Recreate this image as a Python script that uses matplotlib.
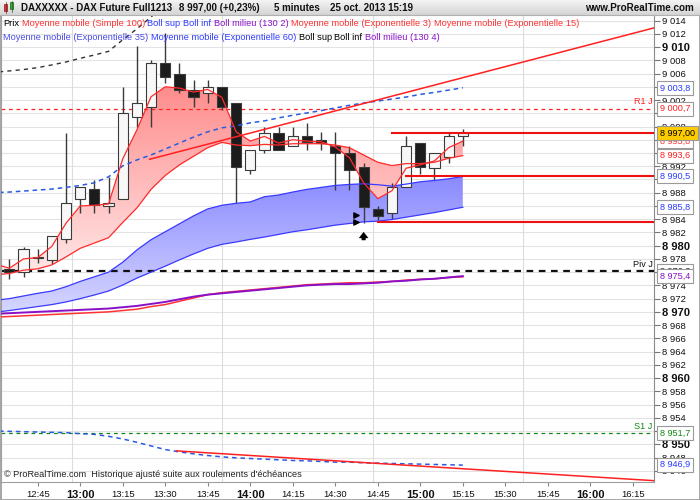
import numpy as np
import matplotlib
matplotlib.use("Agg")
import matplotlib.pyplot as plt
import matplotlib.transforms as mtransforms
from matplotlib.colors import LinearSegmentedColormap
from matplotlib.patches import Rectangle

plt.rcParams['font.family'] = ['Liberation Sans', 'DejaVu Sans']

# ---------------- data ----------------
times = ["12:35", "12:40", "12:45", "12:50", "12:55", "13:00", "13:05", "13:10", "13:15",
         "13:20", "13:25", "13:30", "13:35", "13:40", "13:45", "13:50", "13:55", "14:00",
         "14:05", "14:10", "14:15", "14:20", "14:25", "14:30", "14:35", "14:40", "14:45",
         "14:50", "14:55", "15:00", "15:05", "15:10", "15:15"]
opens = [8976.4, 8976.0, 8978.2, 8977.9, 8981.0, 8987.0, 8988.5, 8986.0, 8987.0, 8999.5,
         9001.0, 9007.6, 9006.0, 9003.5, 9003.0, 9004.0, 9001.5, 8991.5, 8994.5, 8997.0,
         8995.0, 8996.5, 8996.0, 8995.0, 8994.0, 8991.9, 8985.5, 8985.0, 8988.9, 8995.5,
         8991.8, 8993.45, 8996.6]
highs = [8978.0, 8979.85, 8979.5, 8981.5, 8997.0, 8988.9, 8989.9, 8990.4, 9004.0, 9010.1,
         9008.05, 9012.2, 9007.6, 9005.0, 9005.0, 9004.0, 9001.5, 8994.5, 8998.0, 8998.0,
         8998.0, 8998.5, 8997.2, 8997.2, 8995.0, 8992.45, 8986.0, 8989.4, 8996.5, 8995.5,
         8994.0, 8997.0, 8997.6]
lows = [8974.9, 8975.3, 8977.4, 8977.3, 8980.4, 8985.0, 8984.9, 8985.0, 8987.0, 8998.0,
        8997.9, 9004.5, 9003.0, 9001.0, 9001.5, 9000.5, 8986.4, 8990.9, 8994.0, 8994.5,
        8995.0, 8994.5, 8994.5, 8988.4, 8988.4, 8983.4, 8983.9, 8984.0, 8988.9, 8990.9,
        8989.9, 8992.45, 8995.0]
closes = [8976.0, 8979.5, 8978.3, 8981.5, 8986.5, 8988.9, 8986.1, 8986.5, 9000.0, 9001.5,
          9007.6, 9005.5, 9003.5, 9002.5, 9004.0, 9001.0, 8991.9, 8994.5, 8997.0, 8994.5,
          8996.5, 8995.7, 8995.5, 8994.0, 8991.45, 8985.9, 8984.5, 8988.9, 8995.0, 8991.9,
          8994.0, 8996.5, 8997.0]

# indicator series start one bar earlier (12:30), just off the left edge
ind_times = ["12:30"] + times
ema3 = [8977.2, 8976.6, 8978.0, 8978.2, 8979.9, 8983.4, 8986.0, 8986.1, 8986.3, 8993.1, 8997.5,
        9002.5, 9004.0, 9003.8, 9003.2, 9003.6, 9002.4, 8997.2, 8995.8, 8996.5, 8995.5,
        8996.0, 8995.8, 8995.7, 8994.9, 8993.3, 8989.5, 8987.1, 8988.3, 8991.7, 8992.2,
        8992.8, 8994.8, 8995.8]
ema15 = [8975.6, 8975.8, 8976.3, 8976.5, 8977.1, 8978.3, 8979.6, 8980.4, 8981.2, 8983.5, 8985.7,
         8988.5, 8990.6, 8992.2, 8993.5, 8994.8, 8995.6, 8995.2, 8995.1, 8995.3, 8995.2,
         8995.4, 8995.4, 8995.4, 8995.2, 8994.8, 8993.7, 8992.6, 8992.1, 8992.4, 8992.4,
         8992.6, 8993.2, 8993.6]
ema35 = [8971.75, 8972.0, 8972.4, 8972.8, 8973.15, 8973.8, 8974.6, 8975.3, 8976.0, 8977.5, 8979.35,
         8980.9, 8982.1, 8983.3, 8984.5, 8985.55, 8986.1, 8986.4, 8986.6, 8987.4, 8987.65,
         8988.1, 8988.5, 8988.8, 8989.1, 8989.25, 8989.35, 8989.2, 8989.0, 8989.3, 8989.65,
         8989.85, 8990.1, 8990.45]
ema60 = [8969.95, 8970.2, 8970.5, 8970.8, 8971.1, 8971.5, 8972.0, 8972.55, 8973.15, 8974.05, 8975.1,
         8976.0, 8976.9, 8977.85, 8978.75, 8979.6, 8980.2, 8980.55, 8980.95, 8981.3, 8981.7,
         8982.1, 8982.4, 8982.75, 8983.1, 8983.35, 8983.6, 8983.7, 8983.95, 8984.3, 8984.65,
         8985.0, 8985.4, 8985.8]
sma100 = [8969.2, 8969.3, 8969.4, 8969.5, 8969.6, 8969.7, 8969.8, 8969.9, 8970.0, 8970.2, 8970.4,
          8970.8, 8971.1, 8971.6, 8972.1, 8972.6, 8972.9, 8973.1, 8973.3, 8973.5, 8973.7,
          8973.9, 8974.1, 8974.2, 8974.3, 8974.4, 8974.4, 8974.5, 8974.6, 8974.8, 8974.9,
          8975.0, 8975.2, 8975.3]
boll_mid = [8969.7, 8969.8, 8969.9, 8970.0, 8970.1, 8970.2, 8970.3, 8970.4, 8970.5, 8970.7, 8970.9,
            8971.2, 8971.5, 8971.9, 8972.3, 8972.6, 8972.8, 8973.0, 8973.2, 8973.4, 8973.6,
            8973.8, 8974.0, 8974.1, 8974.2, 8974.2, 8974.3, 8974.4, 8974.6, 8974.7, 8974.9,
            8975.0, 8975.2, 8975.4]
boll2_up = [8988.0, 8988.1, 8988.25, 8988.4, 8988.55, 8988.8, 8989.1, 8989.5, 8990.4, 8992.05, 8992.95,
            8993.7, 8994.6, 8995.5, 8996.4, 8997.2, 8997.8, 8998.1, 8998.55, 8998.85, 8999.3,
            8999.7, 9000.05, 9000.4, 9000.8, 9001.2, 9001.55, 9001.85, 9002.15, 9002.45, 9002.85,
            9003.15, 9003.5, 9003.85]
boll2_dn = [8952.0, 8951.95, 8951.9, 8951.85, 8951.8, 8951.75, 8951.6, 8951.5, 8951.2, 8950.8, 8950.3,
            8949.75, 8949.2, 8948.85, 8948.55, 8948.3, 8948.1, 8947.95, 8947.85, 8947.75, 8947.65,
            8947.55, 8947.5, 8947.4, 8947.3, 8947.3, 8947.2, 8947.15, 8947.1, 8947.05, 8947.0,
            8946.95, 8946.9, 8946.85]
boll4_up = [9006.2, 9006.4, 9006.6, 9006.9, 9007.3, 9007.75, 9008.3, 9008.8, 9009.35, 9011.1, 9012.75,
            9014.55, 9016.4, 9018.3] + [np.nan] * 20

piv_j, r1_j, s1_j = 8976.2, 9000.7, 8951.7

trend_upper_slots = [9.9, 45.5]
trend_upper_vals = [8993.05, 9012.9]
trend_lower_slots = [11.8, 45.5]
trend_lower_vals = [8949.0, 8944.5]

level_vals = [8997.0, 8990.5, 8983.5]
level_from = ["14:50", "14:55", "14:45"]

arrow_time = "14:40"
arrow_vals = [8980.4, 8982.5]
signal_slots = [24.45, 24.45]
signal_vals = [8984.7, 8983.6]

xtick_labels = ["12:45", "13:00", "13:15", "13:30", "13:45", "14:00", "14:15", "14:30",
                "14:45", "15:00", "15:15", "15:30", "15:45", "16:00", "16:15"]

box_vals = [9003.8, 9000.7, 8995.8, 8993.6, 8990.5, 8985.8, 8976.2, 8975.4, 8951.7, 8946.9]
box_texts = ["9 003,8", "9 000,7", "8 995,8", "8 993,6", "8 990,5", "8 985,8", "8 976,2",
             "8 975,4", "8 951,7", "8 946,9"]
box_colors = ["#2b3cff", "#ff2020", "#ff3030", "#ff2020", "#2b3cff", "#2b3cff", "#222222",
              "#8a10c8", "#118811", "#2b3cff"]
last_price = 8997.0
last_price_text = "8 997,00"

# ---------------- helpers ----------------
def slot(t):
    h, m = t.split(":")
    return (int(h) * 60 + int(m) - (12 * 60 + 35)) / 5.0

def fmt_tick(v):
    v = int(round(v))
    return f"{v // 1000} {v % 1000:03d}"

W, H = 700, 500
fig = plt.figure(figsize=(W / 100, H / 100), dpi=100)
fig.patch.set_facecolor("white")
fig.patch.set_edgecolor("#a8a8a8")
fig.patch.set_linewidth(1.0)

PX = 14.17          # pixels per 5-min slot
X0 = -0.59
ax = fig.add_axes([1 / W, 18 / H, 653 / W, 467 / H])
ax.set_facecolor("white")

xs = np.array([slot(t) for t in times])
xi = np.array([slot(t) for t in ind_times])
o = np.array(opens); c = np.array(closes); hi = np.array(highs); lo = np.array(lows)

# grid
for v in np.arange(8946, 9015, 2):
    ax.axhline(v, color="#e3e3e3", lw=0.8, zorder=0)
for px in [71.7, 221.7, 372.7, 523.5]:
    ax.axvline(X0 + (px - 1) / PX, color="#dcdcdc", lw=0.8, zorder=0)


def gradient_fill(x, y1, y2, c_top, c_bot, z):
    poly = ax.fill_between(x, y1, y2, facecolor="none", edgecolor="none", zorder=z)
    path = poly.get_paths()[0]
    ymin = float(min(np.min(y1), np.min(y2)))
    ymax = float(max(np.max(y1), np.max(y2)))
    cmap = LinearSegmentedColormap.from_list("g", [c_bot, c_top])
    grad = np.linspace(0, 1, 256).reshape(-1, 1)
    im = ax.imshow(grad, cmap=cmap, aspect="auto", origin="lower",
                   extent=[x[0], x[-1], ymin, ymax], zorder=z, interpolation="bilinear")
    im.set_clip_path(path, ax.transData)


gradient_fill(xi, np.array(ema35), np.array(ema60), "#8a8aff", "#d6d6ff", 1)
gradient_fill(xi, np.array(ema3), np.array(ema15), "#ff8c8c", "#ffe8e8", 1.1)

# pivot lines
ax.axhline(piv_j, color="#111111", lw=1.6, ls=(0, (3, 2.5)), zorder=2)
ax.axhline(r1_j, color="#ff2020", lw=0.9, ls=(0, (3, 3)), zorder=2)
ax.axhline(s1_j, color="#108a10", lw=0.9, ls=(0, (3, 3)), zorder=2)

# candles
up = c >= o
body_lo = np.minimum(o, c)
body_h = np.maximum(np.abs(c - o), 0.12)
ax.vlines(xs, lo, hi, color="#3a3a3a", lw=1.0, zorder=3)
ax.bar(xs, body_h, bottom=body_lo, width=0.72,
       color=np.where(up, "#f7f7f7", "#1c1c1c"), edgecolor="#3a3a3a", linewidth=0.8, zorder=3.1)

# indicators
ax.plot(xi, sma100, color="#ff3333", lw=1.1, zorder=4)
ax.plot(xi, boll_mid, color="#8a10c8", lw=1.4, zorder=4)
ax.plot(xi, ema35, color="#3a3aff", lw=0.9, zorder=4)
ax.plot(xi, ema60, color="#3a3aff", lw=0.9, zorder=4)
ax.plot(xi, ema15, color="#ff2a2a", lw=0.9, zorder=4.2)
ax.plot(xi, ema3, color="#ff2a2a", lw=0.9, zorder=4.2)
ax.plot(xi, boll2_up, color="#2a5ae0", lw=1.1, ls=(0, (3, 2.5)), zorder=4)
ax.plot(xi, boll2_dn, color="#2a5ae0", lw=1.1, ls=(0, (3, 2.5)), zorder=4)
ax.plot(xi, boll4_up, color="#333333", lw=1.0, ls=(0, (3, 3)), zorder=4)

# trend lines and levels
ax.plot(trend_upper_slots, trend_upper_vals, color="#ff2020", lw=1.1, zorder=4.5)
ax.plot(trend_lower_slots, trend_lower_vals, color="#ff2020", lw=1.1, zorder=4.5)
X1 = X0 + 653 / PX
for v, t in zip(level_vals, level_from):
    ax.plot([slot(t), X1], [v, v], color="#ee1111", lw=1.5, zorder=4.5)

# signals
ax.annotate("", xy=(slot(arrow_time), arrow_vals[1]), xytext=(slot(arrow_time), arrow_vals[0]),
            arrowprops=dict(arrowstyle="simple,head_width=0.7,head_length=0.45,tail_width=0.3",
                            color="black", lw=0), zorder=6)
ax.scatter(signal_slots, signal_vals, marker=">", s=14, color="black", zorder=6)

# pivot labels
ax.text(X1 - 0.1, r1_j + 0.35, "R1 J", color="#ff2020", fontsize=6.6, ha="right", va="bottom", zorder=6)
ax.text(X1 - 0.1, piv_j + 0.35, "Piv J", color="#111111", fontsize=6.6, ha="right", va="bottom", zorder=6)
ax.text(X1 - 0.1, s1_j + 0.35, "S1 J", color="#108a10", fontsize=6.6, ha="right", va="bottom", zorder=6)

# limits
ax.set_xlim(X0, X1)
ax.set_ylim(8944.3, 8944.3 + 467 / 6.62)

# axes styling
ax.spines["top"].set_visible(False)
ax.spines["left"].set_color("#a0a0a0")
ax.spines["bottom"].set_color("#a0a0a0")
ax.spines["right"].set_color("#8a8a8a")
ax.yaxis.tick_right()
yt = np.arange(8946, 9015, 2)
ax.set_yticks(yt)
ax.set_yticklabels([fmt_tick(v) for v in yt])
for lab, v in zip(ax.get_yticklabels(), yt):
    if v % 10 == 0:
        lab.set_fontweight("bold")
        lab.set_fontsize(8.0)
    else:
        lab.set_fontsize(6.8)
ax.tick_params(axis="y", length=4, width=0.8, color="#777777", pad=2, labelcolor="#111111")
ax.set_xticks([slot(t) for t in xtick_labels])
ax.set_xticklabels(xtick_labels)
for lab, t in zip(ax.get_xticklabels(), xtick_labels):
    if t.endswith(":00"):
        lab.set_fontweight("bold")
        lab.set_fontsize(8.0)
    else:
        lab.set_fontsize(6.8)
ax.tick_params(axis="x", length=3, width=0.8, color="#888888", pad=3, labelcolor="#111111")

# value boxes on the right axis
ytr = mtransforms.blended_transform_factory(ax.transAxes, ax.transData)
bx = 1 + 6 / 653
for v, t, col in zip(box_vals, box_texts, box_colors):
    ax.text(bx, v, t, transform=ytr, color=col, fontsize=6.6, va="center", ha="left",
            zorder=10, clip_on=False,
            bbox=dict(boxstyle="square,pad=0.28", fc="white", ec="#9a9a9a", lw=0.8))
ax.text(bx, last_price, last_price_text, transform=ytr, color="black", fontsize=6.5,
        va="center", ha="left", zorder=11, clip_on=False,
        bbox=dict(boxstyle="square,pad=0.28", fc="#ffcc00", ec="#9a9a9a", lw=0.8))

# bottom note
ax.text(0.004, 0.016, "© ProRealTime.com  Historique ajusté suite aux roulements d'échéances",
        transform=ax.transAxes, fontsize=6.6, color="#222222", va="center", ha="left", zorder=10)


# legend lines (chained texts)
def chain(x_px, y_px, items, size, weight="normal", gap=2.6):
    prev = ax.text(x_px / W, 1 - y_px / H, items[0][0], color=items[0][1], fontsize=size,
                   weight=weight, va="center", ha="left", transform=fig.transFigure, zorder=12)
    for s, col in items[1:]:
        prev = ax.annotate(s, xy=(1, 0.5), xycoords=prev, xytext=(gap, 0),
                           textcoords="offset pixels", va="center", ha="left", color=col,
                           fontsize=size, weight=weight, annotation_clip=False, zorder=12)
    return prev


RED = "#ff3333"; BLUE = "#2f3cff"; PURP = "#8a10c8"; BLUE2 = "#4a4ae6"
chain(3, 23.5, [("Prix", "black"), ("Moyenne mobile (Simple 100)", RED), ("Boll sup", BLUE),
                ("Boll inf", BLUE), ("Boll milieu (130 2)", PURP),
                ("Moyenne mobile (Exponentielle 3)", RED), ("Moyenne mobile (Exponentielle 15)", RED)], 6.7)
chain(3, 37.5, [("Moyenne mobile (Exponentielle 35)", BLUE2), ("Moyenne mobile (Exponentielle 60)", BLUE),
                ("Boll sup", "black"), ("Boll inf", "black"), ("Boll milieu (130 4)", PURP)], 6.7)

# title bar
tax = fig.add_axes([0, 1 - 15 / H, 1, 15 / H])
tax.imshow(np.linspace(0, 1, 64).reshape(-1, 1), aspect="auto", origin="lower",
           cmap=LinearSegmentedColormap.from_list("t", ["#d4d4d4", "#f4f4f4"]), extent=[0, 1, 0, 1])
tax.set_xlim(0, 1); tax.set_ylim(0, 1)
tax.axis("off")
tax.add_patch(Rectangle((4 / W, 4 / 15), 3 / W, 7 / 15, facecolor="#e03030", edgecolor="#802020", lw=0.5))
tax.add_patch(Rectangle((10 / W, 6 / 15), 3 / W, 7 / 15, facecolor="#30b030", edgecolor="#206020", lw=0.5))
tax.plot([5.5 / W, 5.5 / W], [2 / 15, 13 / 15], color="#802020", lw=0.5)
tax.plot([11.5 / W, 11.5 / W], [3 / 15, 14 / 15], color="#206020", lw=0.5)
fig.add_artist(plt.Line2D([0, 1], [1 - 15 / H, 1 - 15 / H], color="#b0b0b0", lw=0.8,
                          transform=fig.transFigure))

tt = fig.text(21 / W, 1 - 8 / H, "DAXXXXX - DAX Future Full1213", fontsize=7.0, weight="bold",
              va="center", ha="left", color="#111111")
prev = tt
for s, g in [("8 997,00 (+0,23%)", 7), ("5 minutes", 14), ("25 oct. 2013 15:19", 10)]:
    prev = fig.add_artist(matplotlib.text.Annotation(
        s, xy=(1, 0.5), xycoords=prev, xytext=(g, 0), textcoords="offset pixels",
        va="center", ha="left", fontsize=7.0, weight="bold", color="#111111"))
fig.text(694 / W, 1 - 8 / H, "www.ProRealTime.com", fontsize=7.1, weight="bold",
         va="center", ha="right", color="#111111")

fig.savefig("out.png", dpi=100)
